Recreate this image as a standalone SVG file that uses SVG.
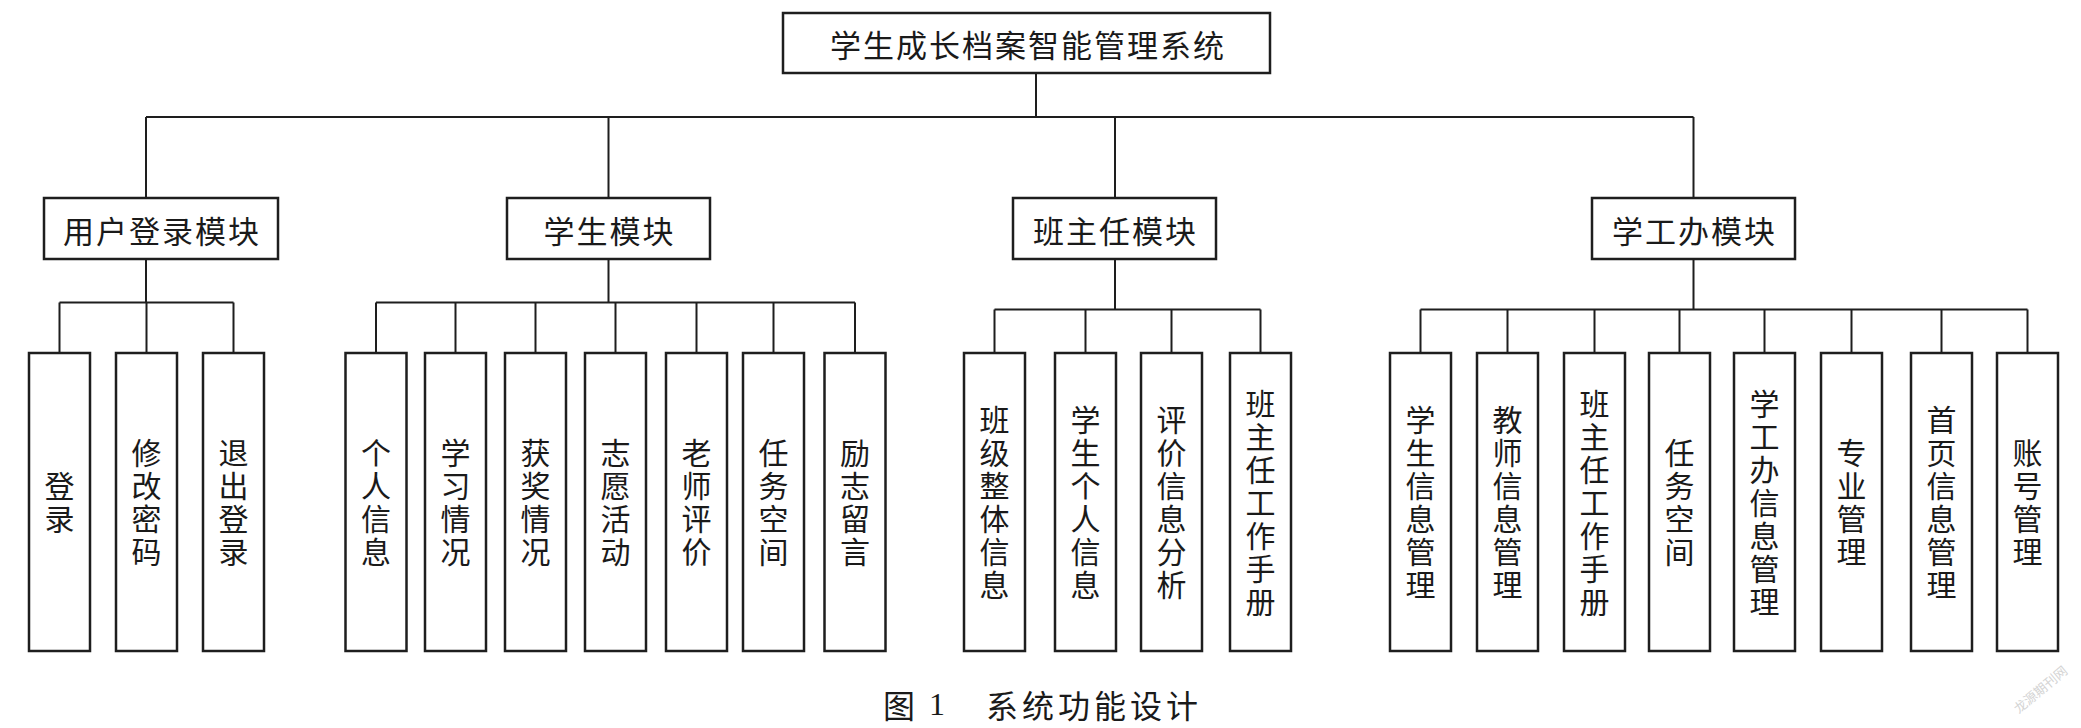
<svg xmlns="http://www.w3.org/2000/svg" width="2081" height="728" viewBox="0 0 2081 728">
<style>
.box{fill:#fff;stroke:#1e1e1e;stroke-width:2.5}
.ln{fill:none;stroke:#1e1e1e;stroke-width:2}
.t1{font-family:"Noto Sans CJK SC","Noto Sans",sans-serif;font-size:31px;letter-spacing:2px;fill:#1a1a1a;text-anchor:middle;dominant-baseline:central}
.lf{font-family:"Noto Sans CJK SC","Noto Sans",sans-serif;font-size:30px;letter-spacing:3px;fill:#1a1a1a;text-anchor:middle;writing-mode:vertical-rl}
.cap{font-family:"Noto Sans CJK SC",sans-serif;font-size:32px;fill:#1a1a1a;dominant-baseline:central}
</style>
<rect width="2081" height="728" fill="#fff"/>
<g id="connectors">
<path class="ln" d="M1036,73V117M146,117H1693.5M146,117V198M608.5,117V198M1115,117V198M1693.5,117V198"/>
<path class="ln" d="M146,259V302.5M59.5,302.5H233.5M59.5,302.5V353M146.5,302.5V353M233.5,302.5V353"/>
<path class="ln" d="M608.5,259V302.5M376,302.5H855M376,302.5V353M455.5,302.5V353M535.5,302.5V353M615.5,302.5V353M696.5,302.5V353M773.5,302.5V353M855,302.5V353"/>
<path class="ln" d="M1115,259V309.5M994.5,309.5H1260.5M994.5,309.5V353M1085.5,309.5V353M1171.5,309.5V353M1260.5,309.5V353"/>
<path class="ln" d="M1693.5,259V309.5M1420.5,309.5H2027.5M1420.5,309.5V353M1507.5,309.5V353M1594.5,309.5V353M1679.5,309.5V353M1764.5,309.5V353M1851.5,309.5V353M1941.5,309.5V353M2027.5,309.5V353"/>
</g>
<g id="root"><rect class="box" x="783" y="13" width="487" height="60"/><text class="t1" x="1028" y="43">学生成长档案智能管理系统</text></g>
<g id="m-user"><rect class="box" x="44" y="198" width="234" height="61"/><text class="t1" x="162" y="229">用户登录模块</text></g>
<g id="m-student"><rect class="box" x="507" y="198" width="203" height="61"/><text class="t1" x="609.5" y="229">学生模块</text></g>
<g id="m-teacher"><rect class="box" x="1013" y="198" width="203" height="61"/><text class="t1" x="1115.5" y="229">班主任模块</text></g>
<g id="m-office"><rect class="box" x="1592" y="198" width="203" height="61"/><text class="t1" x="1694.5" y="229">学工办模块</text></g>

<g id="l-login"><rect class="box" x="29" y="353" width="61" height="298"/><text class="lf" x="59.5" y="504">登录</text></g>
<g id="l-pwd"><rect class="box" x="116" y="353" width="61" height="298"/><text class="lf" x="146.5" y="504">修改密码</text></g>
<g id="l-logout"><rect class="box" x="203" y="353" width="61" height="298"/><text class="lf" x="233.5" y="504">退出登录</text></g>

<g id="s-info"><rect class="box" x="345.5" y="353" width="61" height="298"/><text class="lf" x="376" y="504">个人信息</text></g>
<g id="s-study"><rect class="box" x="425" y="353" width="61" height="298"/><text class="lf" x="455.5" y="504">学习情况</text></g>
<g id="s-award"><rect class="box" x="505" y="353" width="61" height="298"/><text class="lf" x="535.5" y="504">获奖情况</text></g>
<g id="s-vol"><rect class="box" x="585" y="353" width="61" height="298"/><text class="lf" x="615.5" y="504">志愿活动</text></g>
<g id="s-eval"><rect class="box" x="666" y="353" width="61" height="298"/><text class="lf" x="696.5" y="504">老师评价</text></g>
<g id="s-task"><rect class="box" x="743" y="353" width="61" height="298"/><text class="lf" x="773.5" y="504">任务空间</text></g>
<g id="s-msg"><rect class="box" x="824.5" y="353" width="61" height="298"/><text class="lf" x="855" y="504">励志留言</text></g>

<g id="t-class"><rect class="box" x="964" y="353" width="61" height="298"/><text class="lf" x="994.5" y="504">班级整体信息</text></g>
<g id="t-stu"><rect class="box" x="1055" y="353" width="61" height="298"/><text class="lf" x="1085.5" y="504">学生个人信息</text></g>
<g id="t-anal"><rect class="box" x="1141" y="353" width="61" height="298"/><text class="lf" x="1171.5" y="504">评价信息分析</text></g>
<g id="t-manual"><rect class="box" x="1230" y="353" width="61" height="298"/><text class="lf" x="1260.5" y="504">班主任工作手册</text></g>

<g id="o-stu"><rect class="box" x="1390" y="353" width="61" height="298"/><text class="lf" x="1420.5" y="504">学生信息管理</text></g>
<g id="o-tea"><rect class="box" x="1477" y="353" width="61" height="298"/><text class="lf" x="1507.5" y="504">教师信息管理</text></g>
<g id="o-manual"><rect class="box" x="1564" y="353" width="61" height="298"/><text class="lf" x="1594.5" y="504">班主任工作手册</text></g>
<g id="o-task"><rect class="box" x="1649" y="353" width="61" height="298"/><text class="lf" x="1679.5" y="504">任务空间</text></g>
<g id="o-office"><rect class="box" x="1734" y="353" width="61" height="298"/><text class="lf" x="1764.5" y="504">学工办信息管理</text></g>
<g id="o-major"><rect class="box" x="1821" y="353" width="61" height="298"/><text class="lf" x="1851.5" y="504">专业管理</text></g>
<g id="o-home"><rect class="box" x="1911" y="353" width="61" height="298"/><text class="lf" x="1941.5" y="504">首页信息管理</text></g>
<g id="o-acct"><rect class="box" x="1997" y="353" width="61" height="298"/><text class="lf" x="2027.5" y="504">账号管理</text></g>

<text class="cap" y="704"><tspan x="883">图</tspan><tspan x="929" font-family="Liberation Serif,serif">1</tspan><tspan x="986" letter-spacing="4">系统功能设计</tspan></text>
<text x="2040" y="689" transform="rotate(-40 2040 689)" font-family="Noto Sans CJK SC,sans-serif" font-size="13" fill="#d4d4d4" text-anchor="middle" dominant-baseline="central">龙源期刊网</text>
</svg>
